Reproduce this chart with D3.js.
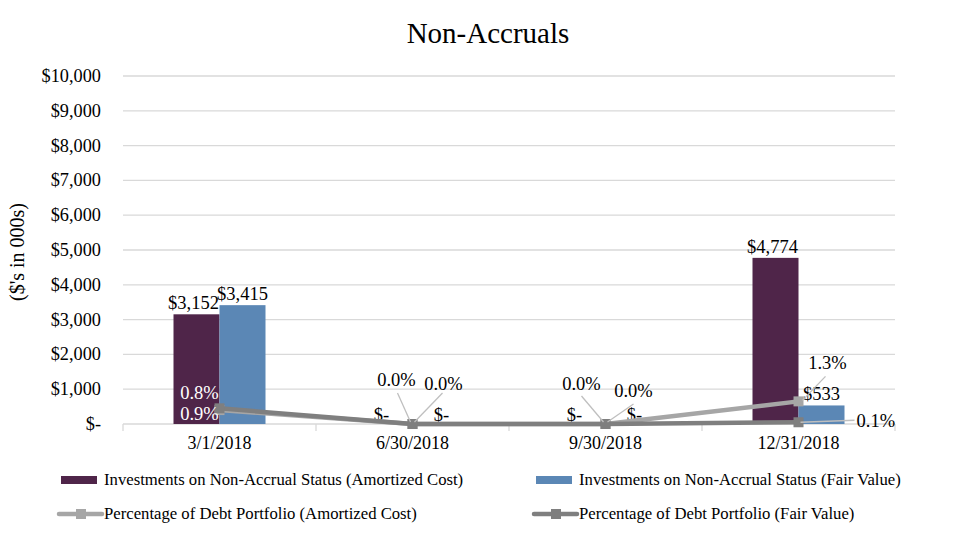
<!DOCTYPE html>
<html><head><meta charset="utf-8">
<script src="https://cdn.jsdelivr.net/npm/d3@7"></script>
<style>body{margin:0;background:#fff}svg{display:block;font-family:"Liberation Serif","Times New Roman",serif}</style>
</head><body><svg id="c" width="976" height="543"></svg>
<script>
const categories = ["3/1/2018","6/30/2018","9/30/2018","12/31/2018"];
const amortizedCost = [3152, 0, 0, 4774];
const fairValue = [3415, 0, 0, 533];
const pctAmortized = [0.8, 0.0, 0.0, 1.3];
const pctFair = [0.9, 0.0, 0.0, 0.1];
const yTicks = [0,1000,2000,3000,4000,5000,6000,7000,8000,9000,10000];
const seriesNames = ["Investments on Non-Accrual Status (Amortized Cost)","Investments on Non-Accrual Status (Fair Value)","Percentage of Debt Portfolio (Amortized Cost)","Percentage of Debt Portfolio (Fair Value)"];
const colors = {ac:"#4F2549", fv:"#5B87B5", pac:"#A6A6A6", pfv:"#7F7F7F", grid:"#D9D9D9"};

const svg = d3.select("#c");
const x = d3.scaleBand().domain(categories).range([123, 895]);
const y = d3.scaleLinear().domain([0,10000]).range([424, 76]);
const y2 = d3.scaleLinear().domain([0,20]).range([424, 76]);
const bw = 46;
const fmt = v => v === 0 ? "$-" : "$" + d3.format(",")(v);
const pfmt = v => v.toFixed(1) + "%";
const cx = c => x(c) + x.bandwidth()/2;
const LF = 18.5;

svg.append("text").attr("x",488).attr("y",43).attr("text-anchor","middle").attr("font-size",29).text("Non-Accruals");

// gridlines
svg.append("g").selectAll("line").data(yTicks.slice(1)).join("line")
  .attr("x1",123).attr("x2",895).attr("y1",d=>y(d)).attr("y2",d=>y(d))
  .attr("stroke",colors.grid).attr("stroke-width",1.3);
// y labels
svg.append("g").selectAll("text").data(yTicks).join("text")
  .attr("x",101).attr("y",d=>y(d)+6).attr("text-anchor","end").attr("font-size",18.3)
  .text(d=>fmt(d));
svg.append("text").attr("transform","translate(24,252) rotate(-90)").attr("text-anchor","middle").attr("font-size",20).text("($'s in 000s)");

// x axis
const xa = svg.append("g").attr("transform","translate(0,424)")
  .call(d3.axisBottom(x).tickSize(0).tickPadding(12));
xa.select(".domain").remove();
xa.selectAll("text").attr("font-size",18).attr("font-family","Liberation Serif").attr("fill","#000");
svg.append("line").attr("x1",123).attr("x2",895).attr("y1",424).attr("y2",424).attr("stroke",colors.grid).attr("stroke-width",1.3);
const bounds = categories.map(c=>x(c)).concat([x(categories[3])+x.bandwidth()]);
svg.append("g").selectAll("line").data(bounds).join("line")
  .attr("x1",d=>d).attr("x2",d=>d).attr("y1",424).attr("y2",431).attr("stroke",colors.grid).attr("stroke-width",1.3);

// bars
svg.append("g").selectAll("rect").data(amortizedCost).join("rect")
  .attr("x",(d,i)=>cx(categories[i])-bw).attr("width",bw)
  .attr("y",d=>y(d)).attr("height",d=>424-y(d)).attr("fill",colors.ac);
svg.append("g").selectAll("rect").data(fairValue).join("rect")
  .attr("x",(d,i)=>cx(categories[i])).attr("width",bw)
  .attr("y",d=>y(d)).attr("height",d=>424-y(d)).attr("fill",colors.fv);

// bar labels
const barLab = svg.append("g").attr("font-size",LF);
amortizedCost.forEach((v,i)=>{
  const c = cx(categories[i]);
  if (v>0) barLab.append("text").attr("x",c-bw/2-3).attr("y",y(v)-5).attr("text-anchor","middle").text(fmt(v));
  else barLab.append("text").attr("x",c-31).attr("y",y(v)-3).attr("text-anchor","middle").text(fmt(v));
});
fairValue.forEach((v,i)=>{
  const c = cx(categories[i]);
  if (v>0) barLab.append("text").attr("x",c+bw/2).attr("y",y(v)-5).attr("text-anchor","middle").text(fmt(v));
  else barLab.append("text").attr("x",c+29).attr("y",y(v)-3).attr("text-anchor","middle").text(fmt(v));
});

// lines
function drawLine(data, color){
  const line = d3.line().x((d,i)=>cx(categories[i])).y(d=>y2(d));
  svg.append("path").datum(data).attr("d",line).attr("fill","none").attr("stroke",color).attr("stroke-width",4.5).attr("stroke-linejoin","round");
  svg.append("g").selectAll("rect").data(data).join("rect")
    .attr("x",(d,i)=>cx(categories[i])-5).attr("y",d=>y2(d)-5).attr("width",10).attr("height",10).attr("fill",color);
}
drawLine(pctAmortized, colors.pac);
drawLine(pctFair, colors.pfv);

// percentage labels
const pl = svg.append("g").attr("font-size",LF);
const leader = (x1,y1,x2,y2)=>pl.append("line").attr("x1",x1).attr("y1",y1).attr("x2",x2).attr("y2",y2).attr("stroke","#BFBFBF").attr("stroke-width",1.3);
// 3/1 labels inside bar (white)
{
  const c = cx(categories[0]);
  pl.append("text").attr("x",c-20).attr("y",y2(pctAmortized[0])-11).attr("text-anchor","middle").attr("fill","#fff").text(pfmt(pctAmortized[0]));
  pl.append("text").attr("x",c-20).attr("y",y2(pctFair[0])+12).attr("text-anchor","middle").attr("fill","#fff").text(pfmt(pctFair[0]));
}
// 6/30
{
  const c = cx(categories[1]);
  leader(c-15,y2(pctAmortized[1])-31,c-2,y2(pctAmortized[1])-2);
  pl.append("text").attr("x",c-16).attr("y",y2(pctAmortized[1])-38).attr("text-anchor","middle").text(pfmt(pctAmortized[1]));
  leader(c+30,y2(pctFair[1])-31,c+2,y2(pctFair[1])-2);
  pl.append("text").attr("x",c+31).attr("y",y2(pctFair[1])-34).attr("text-anchor","middle").text(pfmt(pctFair[1]));
}
// 9/30
{
  const c = cx(categories[2]);
  leader(c-24,y2(pctAmortized[2])-28,c-2,y2(pctAmortized[2])-2);
  pl.append("text").attr("x",c-24).attr("y",y2(pctAmortized[2])-34).attr("text-anchor","middle").text(pfmt(pctAmortized[2]));
  leader(c+28,y2(pctFair[2])-20,c+2,y2(pctFair[2])-2);
  pl.append("text").attr("x",c+28).attr("y",y2(pctFair[2])-27).attr("text-anchor","middle").text(pfmt(pctFair[2]));
}
// 12/31
{
  const c = cx(categories[3]);
  leader(c+27,y2(pctAmortized[3])-25,c+4,y2(pctAmortized[3])-1);
  pl.append("text").attr("x",c+29).attr("y",y2(pctAmortized[3])-32).attr("text-anchor","middle").text(pfmt(pctAmortized[3]));
  leader(c+56,y2(pctFair[3])-2,c+2,y2(pctFair[3]));
  pl.append("text").attr("x",c+58).attr("y",y2(pctFair[3])+5).attr("text-anchor","start").text(pfmt(pctFair[3]));
}

// legend
const lg = svg.append("g").attr("font-size",16.7);
const legItems = [
  {name:seriesNames[0], type:"bar", color:colors.ac, x:61, y:480},
  {name:seriesNames[1], type:"bar", color:colors.fv, x:536, y:480},
  {name:seriesNames[2], type:"line", color:colors.pac, x:59, y:514},
  {name:seriesNames[3], type:"line", color:colors.pfv, x:534, y:514}
];
legItems.forEach(it=>{
  if (it.type==="bar") lg.append("rect").attr("x",it.x).attr("y",it.y-4).attr("width",36).attr("height",8).attr("fill",it.color);
  else {
    lg.append("line").attr("x1",it.x).attr("x2",it.x+43).attr("y1",it.y).attr("y2",it.y).attr("stroke",it.color).attr("stroke-width",4.5).attr("stroke-linecap","round");
    lg.append("rect").attr("x",it.x+17).attr("y",it.y-5).attr("width",10).attr("height",10).attr("fill",it.color);
  }
  lg.append("text").attr("x",it.x+(it.type==="bar"?43:45)).attr("y",it.y+5).text(it.name);
});
</script></body></html>
